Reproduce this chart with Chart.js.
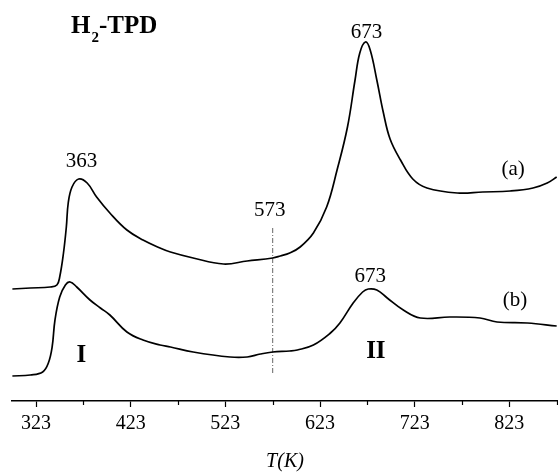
<!DOCTYPE html>
<html>
<head>
<meta charset="utf-8">
<script src="https://cdn.jsdelivr.net/npm/chart.js@4"></script>
<style>
  body { margin: 0; background: #fff; }
  canvas { display: block; }
</style>
</head>
<body>
<canvas id="tpd-chart" width="558" height="472"></canvas>
<script>
'use strict';

// curve (a)
var TEMP_A = [298, 317, 338, 345, 348, 352, 355, 357, 361, 368,
	377, 387, 401, 419, 436, 454, 465, 489, 521, 546,
	573, 581, 591, 602, 616, 630, 641, 652, 660, 665,
	671, 676, 683, 690, 697, 708, 721, 736, 768, 795,
	824, 848, 863, 873];
var SIGNAL_A = [112, 113, 114, 116, 124, 148, 174, 198, 214, 222,
	218, 204, 188, 171, 161, 153, 149, 143, 137, 140,
	143, 145, 148, 154, 168, 194, 231, 274, 321, 348,
	359, 351, 321, 288, 262, 241, 222, 213, 208, 209,
	210, 213, 218, 224];

// curve (b)
var TEMP_B = [298, 317, 330, 336, 340, 343, 348, 354, 359, 366,
	380, 391, 401, 419, 436, 454, 465, 489, 528, 546,
	560, 573, 591, 599, 616, 634, 644, 658, 668, 674,
	683, 694, 711, 729, 760, 792, 810, 842, 873];
var SIGNAL_B = [25, 26, 29, 38, 54, 81, 104, 116, 119, 114,
	101, 93, 86, 69, 61, 56, 54, 49, 44, 44,
	47, 49, 50, 51, 56, 68, 78, 98, 109, 112,
	111, 103, 91, 83, 84, 83, 79, 78, 75];

// dash-dot marker at 573 K
var MARK_TEMP = [573, 573];
var MARK_SIGNAL = [28, 173];

var MAJOR_TICKS = [323, 423, 523, 623, 723, 823];
var MINOR_TICKS = [373, 473, 573, 673, 773, 873];

// text labels placed in data units
var NOTE_TEXT = ['363', '673', '573', '673', '(a)', '(b)'];
var NOTE_TEMP = [371, 672, 570, 676, 827, 829];
var NOTE_SIGNAL = [240, 369, 191, 125, 232, 101];
var ROMAN_TEXT = ['I', 'II'];
var ROMAN_TEMP = [371, 682];
var ROMAN_SIGNAL = [45, 49];

function toPoints(xs, ys) {
	return xs.map(function (x, i) { return { x: x, y: ys[i] }; });
}

var SERIF = '"Liberation Serif", "Times New Roman", serif';

var annotations = {
	id: 'annotations',
	afterDraw: function (chart) {
		var c = chart.ctx;
		var xs = chart.scales.x;
		var ys = chart.scales.y;
		c.save();
		c.fillStyle = '#000';
		c.strokeStyle = '#000';

		// minor ticks
		c.lineWidth = 1.2;
		MINOR_TICKS.forEach(function (v) {
			var px = Math.round(xs.getPixelForValue(v)) + 0.5;
			c.beginPath();
			c.moveTo(px, xs.top);
			c.lineTo(px, xs.top + 4);
			c.stroke();
		});

		c.textAlign = 'center';
		c.textBaseline = 'middle';
		c.font = '21px ' + SERIF;
		NOTE_TEXT.forEach(function (t, i) {
			c.fillText(t, xs.getPixelForValue(NOTE_TEMP[i]), ys.getPixelForValue(NOTE_SIGNAL[i]));
		});
		c.font = 'bold 25px ' + SERIF;
		ROMAN_TEXT.forEach(function (t, i) {
			c.fillText(t, xs.getPixelForValue(ROMAN_TEMP[i]), ys.getPixelForValue(ROMAN_SIGNAL[i]));
		});

		// H2-TPD heading
		c.textAlign = 'left';
		c.textBaseline = 'alphabetic';
		c.font = 'bold 25px ' + SERIF;
		c.fillText('H', 71, 33);
		var w = c.measureText('H').width;
		c.font = 'bold 15px ' + SERIF;
		c.fillText('2', 71 + w + 1, 42);
		var w2 = c.measureText('2').width;
		c.font = 'bold 25px ' + SERIF;
		c.fillText('-TPD', 71 + w + w2 + 1, 33);
		c.restore();
	}
};

var ctx = document.getElementById('tpd-chart').getContext('2d');
new Chart(ctx, {
	type: 'line',
	data: {
		datasets: [{
			label: '(a)',
			data: toPoints(TEMP_A, SIGNAL_A),
			borderColor: '#000',
			borderWidth: 1.7,
			pointRadius: 0,
			tension: 0.4,
			fill: false
		}, {
			label: '(b)',
			data: toPoints(TEMP_B, SIGNAL_B),
			borderColor: '#000',
			borderWidth: 1.7,
			pointRadius: 0,
			tension: 0.4,
			fill: false
		}, {
			label: '573',
			data: toPoints(MARK_TEMP, MARK_SIGNAL),
			borderColor: '#666',
			borderWidth: 1,
			borderDash: [5, 2, 1, 2],
			pointRadius: 0,
			fill: false
		}]
	},
	options: {
		responsive: false,
		animation: false,
		events: [],
		layout: {
			padding: { left: 12, right: 0, top: 0, bottom: 0 }
		},
		plugins: {
			legend: { display: false },
			tooltip: { enabled: false },
			title: { display: false }
		},
		scales: {
			x: {
				type: 'linear',
				min: 297.6,
				max: 874.4,
				afterBuildTicks: function (scale) {
					scale.ticks = MAJOR_TICKS.map(function (v) { return { value: v }; });
				},
				afterFit: function (scale) {
					scale.height = 71;
				},
				border: { display: true, color: '#000', width: 1.5 },
				grid: {
					drawOnChartArea: false,
					drawTicks: true,
					tickLength: 6,
					tickWidth: 1.2,
					color: '#000'
				},
				ticks: {
					autoSkip: false,
					maxRotation: 0,
					padding: 5,
					color: '#000',
					font: { family: SERIF, size: 20 }
				},
				title: {
					display: true,
					text: 'T(K)',
					color: '#000',
					font: { family: SERIF, size: 20, style: 'italic', lineHeight: 1 },
					padding: { top: 0, bottom: 0 }
				}
			},
			y: {
				type: 'linear',
				display: false,
				min: 0,
				max: 401
			}
		}
	},
	plugins: [annotations]
});
</script>
</body>
</html>
